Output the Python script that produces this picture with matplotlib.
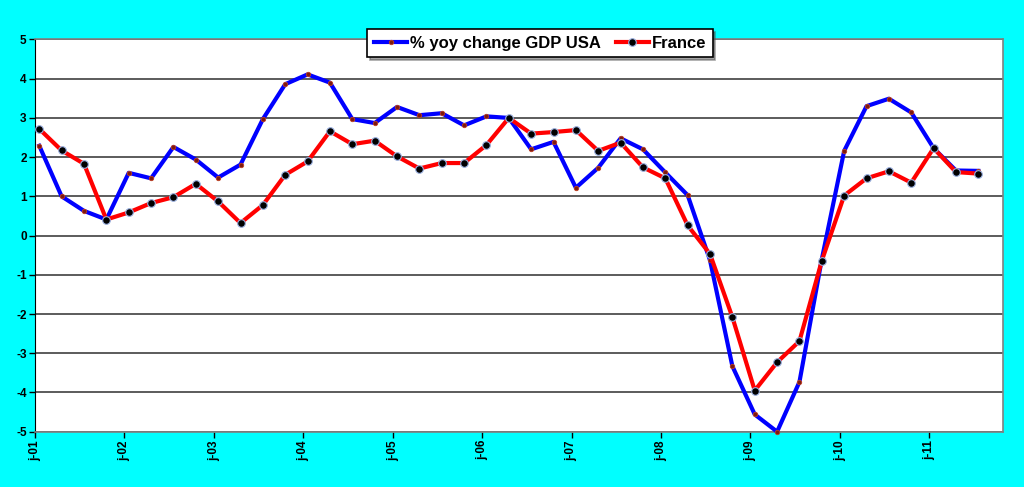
import matplotlib
matplotlib.use("Agg")
import matplotlib.pyplot as plt
import numpy as np

# quarterly data, 2001 Q1 .. 2011 Q3
start_year = 2001
usa = [2.29, 1.00, 0.63, 0.41,
       1.60, 1.46, 2.26, 1.94,
       1.48, 1.81, 2.97, 3.86,
       4.11, 3.90, 2.97, 2.87,
       3.28, 3.07, 3.12, 2.81,
       3.04, 3.00, 2.20, 2.39,
       1.22, 1.73, 2.48, 2.20,
       1.61, 1.03, -0.63, -3.33,
       -4.56, -5.00, -3.73, -0.60,
       2.16, 3.30, 3.49, 3.14,
       2.23, 1.66, 1.65]
france = [2.72, 2.17, 1.83, 0.41,
          0.59, 0.83, 0.98, 1.32,
          0.87, 0.32, 0.78, 1.55,
          1.89, 2.66, 2.33, 2.42,
          2.02, 1.71, 1.85, 1.85,
          2.31, 3.00, 2.60, 2.64,
          2.69, 2.16, 2.37, 1.74,
          1.46, 0.26, -0.47, -2.08,
          -3.95, -3.23, -2.69, -0.64,
          1.02, 1.46, 1.64, 1.35,
          2.23, 1.62, 1.58]
year_labels = ["j-01", "j-02", "j-03", "j-04", "j-05", "j-06",
               "j-07", "j-08", "j-09", "j-10", "j-11"]

plt.rcParams["font.family"] = ["Liberation Sans", "DejaVu Sans"]
plt.rcParams["axes.unicode_minus"] = False

x = start_year + 0.048 + 0.25 * np.arange(len(usa))

fig = plt.figure(figsize=(10.24, 4.87), dpi=100, facecolor="#00FFFF")
ax = fig.add_axes([35 / 1024, 1 - 431.7 / 487, 968 / 1024, 392.2 / 487])
ax.set_facecolor("white")

ax.plot(x, usa, color="#0000FF", lw=3, marker="o", ms=3.2,
        mfc="#7a1a10", mec="#c04020", mew=0.6,
        label="% yoy change GDP USA", zorder=3, clip_on=False)
ax.plot(x, france, color="#FF0000", lw=3, marker="o", ms=5.5,
        mfc="black", mec="#9ab0e0", mew=0.8,
        label="France", zorder=4)

ax.set_ylim(-5, 5)
ax.set_xlim(2001, 2011.824)
ax.set_yticks(range(-5, 6))
ax.set_xticks(range(2001, 2012))
ax.set_xticklabels(year_labels, rotation=90)
ax.yaxis.grid(True, color="#404040", lw=1.2)
ax.set_axisbelow(True)

for lab in ax.get_yticklabels() + ax.get_xticklabels():
    lab.set_fontweight("bold")
    lab.set_fontsize(8.5)
ax.tick_params(axis="both", direction="out", length=4, width=1, color="black", pad=2)

for side in ["top", "right", "bottom"]:
    ax.spines[side].set_color("#808080")
    ax.spines[side].set_linewidth(1.2)
ax.spines["left"].set_color("black")

leg = ax.legend(loc="upper center", bbox_to_anchor=(540 / 1024, 1 - 29 / 487),
                bbox_transform=fig.transFigure, ncol=2, frameon=True,
                fancybox=False, shadow=True, edgecolor="black",
                prop={"weight": "bold", "size": 12}, handlelength=2.0,
                handletextpad=0.15, columnspacing=0.9, borderpad=0.4,
                borderaxespad=0, framealpha=1)
leg.get_frame().set_linewidth(1.2)

fig.savefig("out.png", dpi=100, facecolor=fig.get_facecolor())
